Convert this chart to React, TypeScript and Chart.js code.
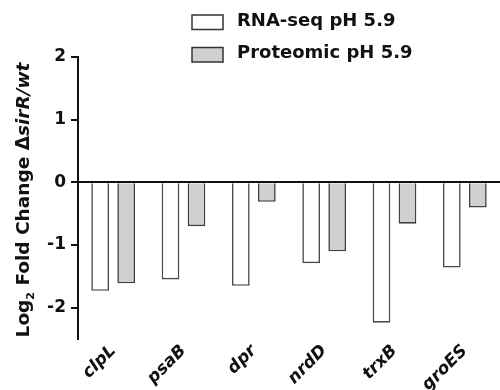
import React, { useEffect, useRef } from "react";
import { Chart, registerables } from "chart.js";

Chart.register(...registerables);

const categories = ["clpL", "psaB", "dpr", "nrdD", "trxB", "groES"];
const rnaSeq = [-1.73, -1.55, -1.65, -1.29, -2.24, -1.36];
const proteomic = [-1.61, -0.7, -0.31, -1.1, -0.66, -0.4];
const seriesLabels = ["RNA-seq pH 5.9", "Proteomic pH 5.9"];
const yMin = -2.5;
const yMax = 2;

const FONT = "'DejaVu Sans', 'Liberation Sans', Arial, sans-serif";

const customDraw = {
  id: "customDraw",
  afterDraw(chart: any) {
    const ctx = chart.ctx as CanvasRenderingContext2D;
    // Legend
    ctx.save();
    const ds = chart.data.datasets;
    const rows = [
      { boxY: 15, base: 26 },
      { boxY: 47.5, base: 58.3 },
    ];
    ds.forEach((d: any, i: number) => {
      const r = rows[i];
      ctx.fillStyle = d.backgroundColor;
      ctx.strokeStyle = "#333";
      ctx.lineWidth = 1.5;
      ctx.fillRect(192, r.boxY, 31, 14.5);
      ctx.strokeRect(192, r.boxY, 31, 14.5);
      ctx.fillStyle = "#111";
      ctx.font = `bold 18px ${FONT}`;
      ctx.textAlign = "left";
      ctx.textBaseline = "alphabetic";
      ctx.fillText(d.label, 237, r.base);
    });
    ctx.restore();

    // Y-axis title with mixed styles
    ctx.save();
    const parts = [
      { t: "Log", f: `bold 18.5px ${FONT}`, dy: 0 },
      { t: "2", f: `bold 11px ${FONT}`, dy: 5 },
      { t: " Fold Change \u0394", f: `bold 18.5px ${FONT}`, dy: 0 },
      { t: "sirR/wt", f: `italic bold 18.5px ${FONT}`, dy: 0 },
    ];
    let total = 0;
    const widths = parts.map((p) => {
      ctx.font = p.f;
      const w = ctx.measureText(p.t).width;
      total += w;
      return w;
    });
    ctx.translate(29, 200);
    ctx.rotate(-Math.PI / 2);
    ctx.fillStyle = "#111";
    ctx.textAlign = "left";
    ctx.textBaseline = "alphabetic";
    let x = -total / 2;
    parts.forEach((p, i) => {
      ctx.font = p.f;
      ctx.fillText(p.t, x, p.dy);
      x += widths[i];
    });
    ctx.restore();
  },
};

export default function App() {
  const ref = useRef<HTMLCanvasElement | null>(null);
  useEffect(() => {
    document.body.style.margin = "0";
    if (!ref.current) return;
    const chart = new Chart(ref.current, {
      type: "bar",
      data: {
        labels: categories,
        datasets: [
          {
            label: seriesLabels[0],
            data: rnaSeq,
            backgroundColor: "#ffffff",
            borderColor: "#4a4a4a",
            borderWidth: 1.6,
            categoryPercentage: 0.74,
            barPercentage: 0.68,
          },
          {
            label: seriesLabels[1],
            data: proteomic,
            backgroundColor: "#d0d0d0",
            borderColor: "#404040",
            borderWidth: 1.6,
            categoryPercentage: 0.74,
            barPercentage: 0.68,
          },
        ],
      },
      options: {
        animation: false,
        responsive: false,
        layout: { padding: { top: 57, right: 0, left: 0, bottom: 0 } },
        plugins: {
          legend: { display: false },
          tooltip: { enabled: false },
        },
        scales: {
          x: {
            grid: { display: false },
            border: { display: false },
            ticks: {
              color: "#111",
              font: { family: FONT, size: 17, weight: "bold", style: "italic" },
              maxRotation: 45,
              minRotation: 45,
              padding: -6,
              autoSkip: false,
            },
            afterFit: (s: any) => {
              s.height = 51;
            },
          },
          y: {
            min: yMin,
            max: yMax,
            ticks: {
              stepSize: 1,
              color: "#111",
              font: { family: FONT, size: 17, weight: "bold" },
              padding: 5,
            },
            afterBuildTicks: (s: any) => {
              s.ticks = s.ticks.filter((t: any) => Number.isInteger(t.value));
            },
            border: { display: true, color: "#111", width: 2 },
            grid: {
              drawTicks: true,
              tickLength: 7,
              tickColor: "#111",
              lineWidth: 2,
              color: (c: any) => (c.tick && c.tick.value === 0 ? "#111" : "rgba(0,0,0,0)"),
            },
            afterFit: (s: any) => {
              s.width = 78;
            },
          },
        },
      },
      plugins: [customDraw],
    });
    return () => chart.destroy();
  }, []);
  return (
    <div style={{ width: 500, height: 390 }}>
      <canvas ref={ref} width={500} height={390} />
    </div>
  );
}
